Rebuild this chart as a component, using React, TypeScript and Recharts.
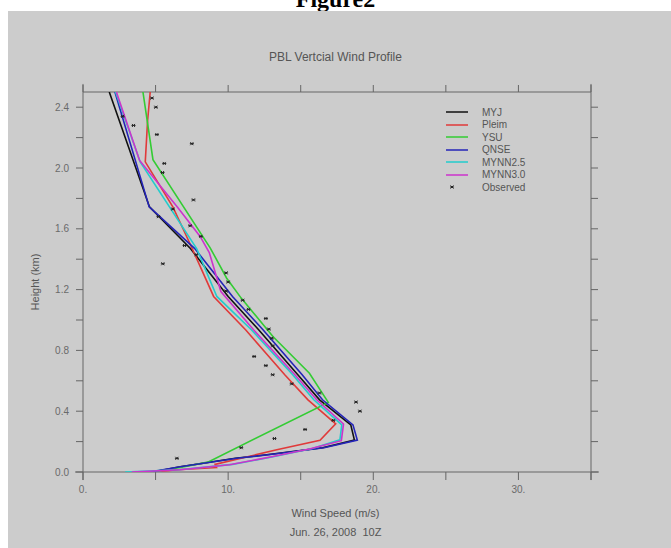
import { ScatterChart, Scatter, XAxis, YAxis, ReferenceLine } from 'recharts';

// axis ticks
const speedTicks = [0, 5, 10, 15, 20, 25, 30, 35];
const speedTickLabels = ['0.', '', '10.', '', '20.', '', '30.', ''];
const heightTicks = [0, 0.2, 0.4, 0.6, 0.8, 1.0, 1.2, 1.4, 1.6, 1.8, 2.0, 2.2, 2.4];
const heightTickLabels = ['0.0', '', '0.4', '', '0.8', '', '1.2', '', '1.6', '', '2.0', '', '2.4'];

// model profiles: wind speed (m/s) at height (km)
const myjHeight = [0.0, 0.035, 0.09, 0.115, 0.16, 0.21, 0.31, 0.475, 0.64, 0.936, 1.155, 1.47, 1.744, 2.5];
const myjSpeed = [4.8, 6.7, 10.5, 12.8, 16.5, 18.7, 18.45, 16.3, 14.8, 12.1, 10.0, 7.4, 4.58, 1.81];

const pleimHeight = [0.0, 0.015, 0.03, 0.05, 0.146, 0.208, 0.317, 0.475, 0.64, 0.936, 1.155, 1.5, 1.744, 2.04, 2.31, 2.5];
const pleimSpeed = [4.9, 6.5, 9.2, 9.1, 13.35, 16.33, 17.41, 15.5, 13.9, 11.2, 9.0, 7.38, 6.19, 4.29, 4.45, 4.63];

const ysuHeight = [0.0, 0.03, 0.065, 0.458, 0.65, 0.89, 1.144, 1.275, 1.475, 2.055, 2.5];
const ysuSpeed = [4.7, 6.7, 8.6, 16.9, 15.6, 13.1, 10.9, 9.9, 8.76, 4.82, 4.13];

const qnseHeight = [0.0, 0.035, 0.09, 0.115, 0.16, 0.21, 0.31, 0.475, 0.64, 0.936, 1.155, 1.47, 1.744, 2.5];
const qnseSpeed = [4.6, 6.7, 10.6, 12.9, 16.6, 18.9, 18.6, 16.5, 15.1, 12.4, 10.3, 7.7, 4.56, 2.2];

const mynn25Height = [0.0, 0.015, 0.05, 0.1, 0.155, 0.212, 0.31, 0.475, 0.64, 0.936, 1.155, 1.47, 2.04, 2.5];
const mynn25Speed = [2.9, 6.6, 10.3, 13.1, 15.8, 17.7, 17.83, 15.9, 14.45, 11.6, 9.22, 7.83, 3.94, 2.24];

const mynn30Height = [0.0, 0.015, 0.048, 0.1, 0.151, 0.206, 0.316, 0.475, 0.64, 0.936, 1.187, 1.444, 1.55, 1.744, 2.05, 2.5];
const mynn30Speed = [3.35, 6.7, 10.1, 13.0, 15.6, 17.8, 17.95, 16.1, 14.6, 11.75, 9.5, 8.7, 8.07, 6.5, 3.9, 2.3];

// observed sounding
const obsHeight = [2.46, 2.40, 2.34, 2.28, 2.22, 2.16, 2.03, 1.97, 1.79, 1.73, 1.68, 1.62, 1.55, 1.49, 1.43, 1.37, 1.31, 1.25, 1.19, 1.13, 1.07, 1.01, 0.94, 0.88, 0.83, 0.76, 0.70, 0.64, 0.58, 0.52, 0.46, 0.40, 0.34, 0.28, 0.22, 0.16, 0.09];
const obsSpeed = [4.75, 5.02, 2.73, 3.48, 5.09, 7.5, 5.6, 5.48, 7.61, 6.19, 5.2, 7.38, 8.12, 7.0, 7.8, 5.5, 9.86, 10.0, 9.86, 11.0, 11.4, 12.6, 12.8, 13.0, 13.07, 11.79, 12.6, 13.07, 14.38, 16.29, 18.81, 19.08, 17.25, 15.3, 13.19, 10.9, 6.47];

const toPoints = (speeds: number[], heights: number[]) =>
  speeds.map((s, i) => ({ speed: s, height: heights[i] }));

const series = [
  { name: 'MYJ', color: '#111111', data: toPoints(myjSpeed, myjHeight) },
  { name: 'Pleim', color: '#e03a3a', data: toPoints(pleimSpeed, pleimHeight) },
  { name: 'YSU', color: '#33cc33', data: toPoints(ysuSpeed, ysuHeight) },
  { name: 'QNSE', color: '#2424b8', data: toPoints(qnseSpeed, qnseHeight) },
  { name: 'MYNN2.5', color: '#22cccc', data: toPoints(mynn25Speed, mynn25Height) },
  { name: 'MYNN3.0', color: '#cc33cc', data: toPoints(mynn30Speed, mynn30Height) },
];

const observed = toPoints(obsSpeed, obsHeight);

const X_MAX = 35;
const Y_MAX = 2.5;
// axis lines run on past the corners by one tick length (~8px)
const X_PAD = 0.55;
const Y_PAD = 0.053;

const AXIS = '#666666';
const LABEL = '#6a6a6a';

const Asterisk = ({ cx, cy }: any) => (
  <g stroke="#222" strokeWidth={1}>
    <line x1={cx - 2} y1={cy} x2={cx + 2} y2={cy} />
    <line x1={cx - 1.5} y1={cy - 1.5} x2={cx + 1.5} y2={cy + 1.5} />
    <line x1={cx - 1.5} y1={cy + 1.5} x2={cx + 1.5} y2={cy - 1.5} />
  </g>
);

const LegendBox = () => (
  <div style={{ position: 'absolute', left: 446, top: 106, fontSize: 10, color: '#555' }}>
    {series.map((s) => (
      <div key={s.name} style={{ display: 'flex', alignItems: 'center', height: 12.5 }}>
        <svg width={36} height={12}>
          <line x1={0} y1={6} x2={22} y2={6} stroke={s.color} strokeWidth={1.5} />
        </svg>
        <span>{s.name}</span>
      </div>
    ))}
    <div style={{ display: 'flex', alignItems: 'center', height: 12.5 }}>
      <svg width={36} height={12}>
        <Asterisk cx={6} cy={6} />
      </svg>
      <span>Observed</span>
    </div>
  </div>
);

export default function App() {
  return (
    <div style={{ position: 'absolute', left: 0, top: 0, width: 671, height: 548, background: '#fff', overflow: 'hidden', fontFamily: '"Liberation Sans", Arial, sans-serif' }}>
      <div style={{ position: 'absolute', left: 0, top: -14, width: 671, textAlign: 'center', fontFamily: '"Liberation Serif", "Times New Roman", serif', fontWeight: 'bold', fontSize: 24 }}>
        Figure2
      </div>
      <div style={{ position: 'absolute', left: 8, top: 11, right: 0, bottom: 0, background: '#cccccc' }} />

      <div style={{ position: 'absolute', left: 0, top: 50, width: 671, textAlign: 'center', fontSize: 12, color: '#555', lineHeight: '14px' }}>
        PBL Vertcial Wind Profile
      </div>
      <div style={{ position: 'absolute', left: 0, top: 506, width: 671, textAlign: 'center', fontSize: 11, color: '#555', lineHeight: '14px' }}>
        Wind Speed (m/s)
      </div>
      <div style={{ position: 'absolute', left: 0, top: 525, width: 671, textAlign: 'center', fontSize: 11, color: '#555', lineHeight: '14px', whiteSpace: 'pre' }}>
        {'Jun. 26, 2008  10Z'}
      </div>
      <div style={{ position: 'absolute', left: 35, top: 282, transform: 'translate(-50%, -50%) rotate(-90deg)', fontSize: 11, color: '#555', whiteSpace: 'nowrap' }}>
        Height (km)
      </div>

      <div style={{ position: 'absolute', left: 0, top: 0 }}>
        <ScatterChart width={671} height={548} margin={{ top: 84, right: 70, bottom: 56, left: 43 }}>
          <XAxis
            xAxisId="b"
            type="number"
            dataKey="speed"
            domain={[0, X_MAX]}
            ticks={speedTicks}
            allowDataOverflow
            height={20}
            tickSize={8}
            tickMargin={6}
            axisLine={false}
            stroke={AXIS}
            tick={{ fill: LABEL, fontSize: 10 }}
            tickFormatter={(v: number) => speedTickLabels[speedTicks.indexOf(v)] ?? ''}
          />
          <XAxis
            xAxisId="t"
            orientation="top"
            type="number"
            dataKey="speed"
            domain={[0, X_MAX]}
            ticks={speedTicks}
            allowDataOverflow
            height={8}
            tickSize={7}
            stroke={AXIS}
            tickFormatter={() => ''}
          />
          <YAxis
            yAxisId="l"
            type="number"
            dataKey="height"
            domain={[0, Y_MAX]}
            ticks={heightTicks}
            allowDataOverflow
            width={40}
            tickSize={7}
            tickMargin={7}
            axisLine={false}
            stroke={AXIS}
            tick={{ fill: LABEL, fontSize: 10 }}
            tickFormatter={(v: number) => heightTickLabels[heightTicks.indexOf(v)] ?? ''}
          />
          <YAxis
            yAxisId="r"
            orientation="right"
            type="number"
            dataKey="height"
            domain={[0, Y_MAX]}
            ticks={heightTicks}
            allowDataOverflow
            width={10}
            tickSize={7}
            axisLine={false}
            stroke={AXIS}
            tickFormatter={() => ''}
          />
          <ReferenceLine xAxisId="b" yAxisId="l" ifOverflow="visible" stroke={AXIS}
            segment={[{ x: 0, y: -Y_PAD }, { x: 0, y: Y_MAX + Y_PAD }]} />
          <ReferenceLine xAxisId="b" yAxisId="l" ifOverflow="visible" stroke={AXIS}
            segment={[{ x: X_MAX, y: -Y_PAD }, { x: X_MAX, y: Y_MAX + Y_PAD }]} />
          <ReferenceLine xAxisId="b" yAxisId="l" ifOverflow="visible" stroke={AXIS}
            segment={[{ x: -X_PAD, y: 0 }, { x: X_MAX + X_PAD, y: 0 }]} />
          {series.map((s) => (
            <Scatter
              key={s.name}
              name={s.name}
              data={s.data}
              xAxisId="b"
              yAxisId="l"
              fill={s.color}
              line={{ stroke: s.color, strokeWidth: 1.6 }}
              shape={() => <g />}
              isAnimationActive={false}
            />
          ))}
          <Scatter
            name="Observed"
            data={observed}
            xAxisId="b"
            yAxisId="l"
            fill="#222"
            shape={(p: any) => <Asterisk cx={p.cx} cy={p.cy} />}
            isAnimationActive={false}
          />
        </ScatterChart>
      </div>
      <LegendBox />
    </div>
  );
}
